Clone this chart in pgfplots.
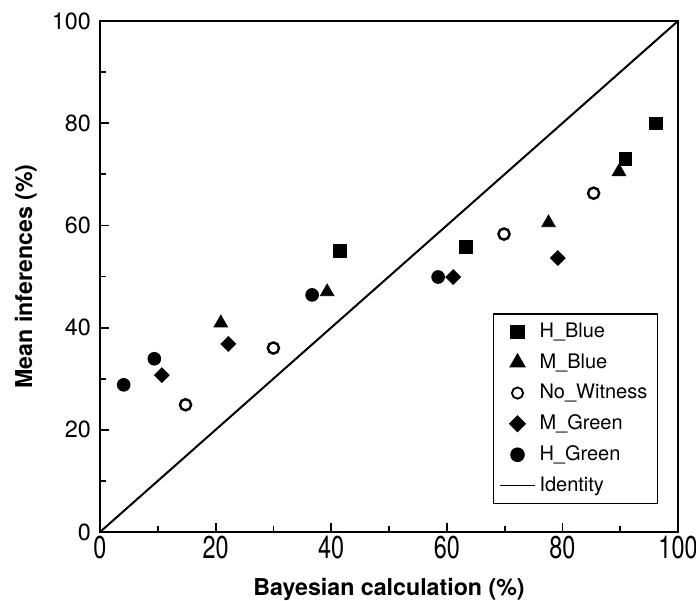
\documentclass[border=0pt]{standalone}
\usepackage{fontspec}
\setmainfont{TeX Gyre Heros}
\usepackage{pgfplots}
\pgfplotsset{compat=1.18}
\usetikzlibrary{calc}
\begin{document}
\begin{tikzpicture}
\begin{axis}[
    scale only axis,
    width=289pt, height=255.5pt,
    xmin=0, xmax=100, ymin=0, ymax=100,
    xtick={0,20,...,100}, ytick={0,20,...,100},
    minor tick num=1,
    tick align=inside, xtick pos=bottom, ytick pos=left,
    major tick length=4.5pt, minor tick length=3pt,
    axis line style={line width=1pt},
    every tick/.style={black, line width=0.9pt},
    /pgf/number format/assume math mode=true,
    tick label style={font=\fontsize{11.7}{13}\selectfont},
    xticklabel style={yscale=1.35, inner ysep=1pt, yshift=-0.5pt},
    yticklabel style={xshift=-1pt},
    label style={font=\fontsize{11.6}{14}\selectfont\bfseries},
    xlabel={Bayesian calculation (\%)},
    ylabel={Mean inferences (\%)},
    xlabel style={at={(axis description cs:0.5,-0.1233)}, anchor=base},
    ylabel style={at={(axis description cs:-0.1176,0.5)}, anchor=base},
    legend style={
        at={(0.9654,0.0548)}, anchor=south east,
        font=\fontsize{10}{12}\selectfont,
        draw=black, line width=0.7pt,
        row sep=2.5pt, inner xsep=3pt, inner ysep=2.5pt,
        cells={anchor=west},
    },
    legend image post style={line width=0.9pt},
]
% H_Blue
\addplot[only marks, mark=square*, mark size=3.1pt, black] coordinates {
    (41.5, 55.0) (63.3, 55.8) (90.9, 73.0) (96.2, 80.0)
};
\addlegendentry{H\_Blue}
% M_Blue
\addplot[only marks, mark=triangle*, mark size=3.9pt, black] coordinates {
    (20.9, 40.9) (39.3, 47.0) (77.6, 60.5) (89.8, 70.5)
};
\addlegendentry{M\_Blue}
% No_Witness
\addplot[only marks, mark=o, mark size=2.8pt, black, line width=1.2pt, fill=white] coordinates {
    (14.8, 24.9) (30.0, 36.0) (69.9, 58.3) (85.4, 66.3)
};
\addlegendentry{No\_Witness\hspace{5pt}}
% M_Green
\addplot[only marks, mark=square*, mark size=2.6pt, black, mark options={rotate=45}] coordinates {
    (10.7, 30.7) (22.2, 36.8) (61.1, 49.9) (79.2, 53.6)
};
\addlegendentry{M\_Green}
% H_Green
\addplot[only marks, mark=*, mark size=3.2pt, black] coordinates {
    (4.1, 28.8) (9.4, 33.9) (36.7, 46.4) (58.5, 49.9)
};
\addlegendentry{H\_Green}
% Identity
\addplot[black, line width=1pt, mark=none] coordinates {(0,0) (100,100)};
\addlegendentry{Identity}
\end{axis}
\pgfresetboundingbox
\path ($(current axis.south west)+(-50pt,-34pt)$) rectangle ($(current axis.north east)+(9pt,10.5pt)$);
\end{tikzpicture}
\end{document}
